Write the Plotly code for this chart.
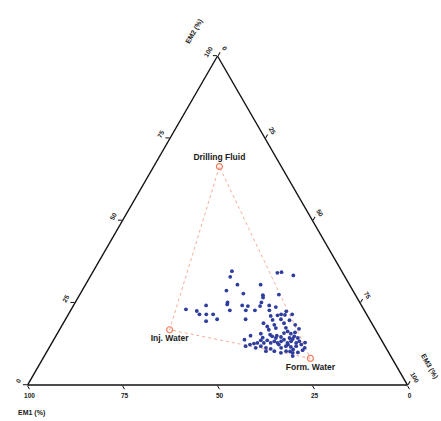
import plotly.graph_objects as go

# End-member compositions (%)
em_names = ["Drilling Fluid", "Inj. Water", "Form. Water"]
em_em1 = [16.3, 54.2, 21.5]
em_em2 = [66.4, 16.8, 8.1]
em_em3 = [17.3, 29.0, 70.4]

# Sample mixing results (%): EM2 (top), EM3 (right); EM1 = 100 - EM2 - EM3
s_em2 = [34.6, 32.9, 34.1, 34.3, 33.3, 30.5, 30.5, 28.7, 27.8, 27.3,
         26.6, 27.5, 25.1, 24.5, 24.2, 24.0, 25.1, 24.0, 23.0, 22.5,
         24.2, 21.5, 21.5, 21.5, 22.7, 22.7, 22.7, 24.2, 22.7, 23.7,
         21.0, 21.2, 21.5, 22.4, 21.5, 20.0, 19.4, 20.0, 20.0, 19.7,
         18.8, 17.8, 18.3, 17.3, 18.8, 15.3, 15.6, 16.3, 15.8, 15.6,
         16.0, 14.8, 14.3, 13.3, 12.8, 13.3, 12.8, 13.8, 13.3, 12.8,
         13.3, 12.8, 13.6, 12.8, 13.6, 12.8, 12.6, 12.3, 11.8, 11.8,
         11.3, 11.0, 10.3, 11.3, 11.8, 11.6, 11.8, 12.3, 11.3, 9.8,
         10.3, 9.8, 8.8, 10.6, 10.3, 11.3, 14.3, 14.0, 14.6, 14.3,
         14.8, 21.3, 12.3, 12.3, 10.8, 9.9, 12.9, 15.0, 14.4, 16.8,
         17.4, 18.3, 15.0, 19.8, 17.1, 10.2, 13.8]
s_em3 = [36.5, 36.9, 48.7, 49.7, 53.3, 40.0, 46.1, 38.0, 42.9, 48.3,
         48.7, 52.4, 40.1, 40.3, 44.4, 46.0, 49.0, 49.2, 30.2, 33.3,
         34.9, 34.5, 36.3, 38.1, 41.9, 46.1, 48.5, 51.5, 52.3, 53.5,
         53.5, 55.2, 56.0, 56.9, 58.9, 39.9, 37.3, 47.4, 56.7, 59.1,
         52.7, 54.2, 55.8, 56.7, 58.1, 56.2, 53.6, 60.3, 59.6, 61.5,
         62.4, 62.8, 64.0, 64.9, 64.3, 62.7, 62.0, 60.6, 60.1, 59.4,
         58.3, 57.6, 56.3, 55.8, 54.6, 54.1, 53.3, 52.4, 51.5, 55.5,
         57.1, 58.5, 59.8, 61.1, 62.1, 63.5, 64.8, 65.9, 67.3, 64.9,
         62.9, 61.8, 65.4, 67.1, 57.6, 54.4, 61.8, 62.8, 59.4, 58.2,
         57.0, 57.1, 62.4, 60.0, 64.5, 66.2, 66.6, 58.1, 54.7, 55.1,
         59.3, 61.3, 51.2, 54.6, 62.9, 64.0, 50.2]
s_em1 = [round(100 - a - c, 1) for a, c in zip(s_em2, s_em3)]

tick_vals = [0, 25, 50, 75, 100]
tick_text = ["0", "25", "50", "75", "100"]

font_family = "Liberation Sans, Arial, sans-serif"

fig = go.Figure()

# End-member triangle (dotted)
fig.add_trace(go.Scatterternary(
    a=em_em2 + em_em2[:1], b=em_em1 + em_em1[:1], c=em_em3 + em_em3[:1],
    mode="lines",
    line=dict(color="#f5ad95", width=1, dash="dot"),
    hoverinfo="skip", showlegend=False,
))

# Samples
fig.add_trace(go.Scatterternary(
    a=s_em2, b=s_em1, c=s_em3,
    mode="markers",
    marker=dict(color="#2e3d9e", size=3.8, line=dict(width=0)),
    showlegend=False,
))

# End-member points with labels
fig.add_trace(go.Scatterternary(
    a=em_em2, b=em_em1, c=em_em3,
    mode="markers+text",
    text=["<b>" + n + "</b>" for n in em_names],
    textposition=["top center", "bottom center", "bottom center"],
    textfont=dict(family=font_family, size=8.5, color="#1a1a1a"),
    marker=dict(symbol="circle-open", color="#f07a5e", size=6, line=dict(width=1.2)),
    showlegend=False,
))

axis_common = dict(
    min=0,
    tickmode="array",
    tickvals=tick_vals,
    ticktext=tick_text,
    ticks="outside",
    ticklen=4,
    tickwidth=1,
    tickcolor="#111111",
    linecolor="#111111",
    linewidth=1.4,
    showgrid=False,
    tickfont=dict(family=font_family, size=6.5, color="#222222", weight="bold"),
    title=dict(text=""),
)

title_font = dict(family=font_family, size=7, color="#1a1a1a")

fig.update_layout(
    width=441,
    height=421,
    margin=dict(l=0, r=0, t=0, b=0),
    paper_bgcolor="white",
    plot_bgcolor="white",
    ternary=dict(
        sum=100,
        bgcolor="white",
        domain=dict(x=[0.0624, 0.9240], y=[0.0762, 0.8762]),
        aaxis=dict(**axis_common, tickangle=-60),
        baxis=dict(**axis_common),
        caxis=dict(**axis_common, tickangle=60),
    ),
    annotations=[
        dict(text="<b>EM2 (%)</b>", x=0.44, y=0.924, xref="paper", yref="paper",
             xanchor="center", yanchor="middle",
             showarrow=False, textangle=-60, font=title_font),
        dict(text="<b>EM1 (%)</b>", x=0.072, y=0.018, xref="paper", yref="paper",
             xanchor="center", yanchor="middle",
             showarrow=False, font=title_font),
        dict(text="<b>EM3 (%)</b>", x=0.973, y=0.131, xref="paper", yref="paper",
             xanchor="center", yanchor="middle",
             showarrow=False, textangle=60, font=title_font),
    ],
)

fig.write_html("out.html")
